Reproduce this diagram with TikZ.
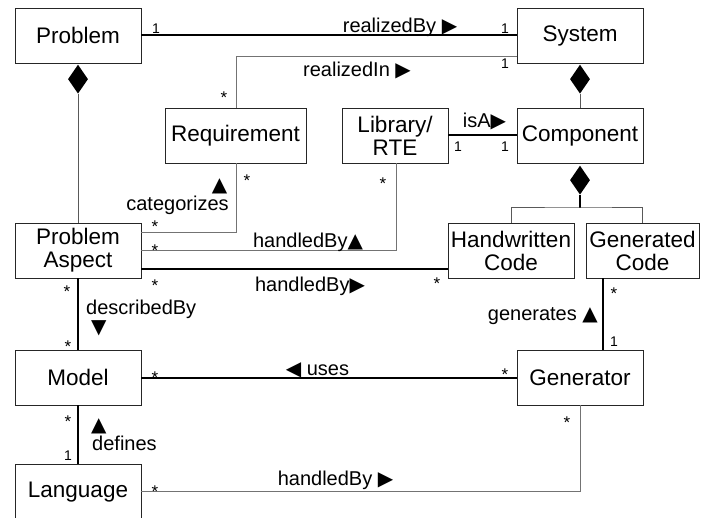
\documentclass[tikz,border=0pt]{standalone}
\usepackage{fontspec}
\setmainfont{Liberation Sans}
\newfontfamily\symf{DejaVu Sans}
\usetikzlibrary{shapes.geometric}
\begin{document}
\begin{tikzpicture}[x=1pt,y=-1pt,
  cls/.style={draw=black!85, line width=0.9pt, fill=white, inner sep=0pt, minimum height=55pt, align=center, font=\fontsize{22.5}{25}\selectfont},
  thick line/.style={draw=black, line width=2pt},
  thin line/.style={draw=black!55, line width=1pt},
  lbl/.style={anchor=base, inner sep=0pt, font=\fontsize{20}{22}\selectfont},
  mult/.style={anchor=base, inner sep=0pt, font=\fontsize{14}{16}\selectfont},
  star/.style={anchor=base, inner sep=0pt, font=\fontsize{17}{18}\selectfont},
  comp/.style={diamond, fill=black, draw=none, inner sep=0pt, minimum width=20pt, minimum height=29pt, anchor=north},
  stem/.style={draw=black!65, line width=1pt}
]
\useasboundingbox (0,0) rectangle (714,518);
\fill[white] (0,0) rectangle (714,518);

% classes
\node[cls, minimum width=126pt] (P) at (78,35.5) {Problem};
\node[cls, minimum width=126pt] (S) at (580,35.5) {System};
\node[cls, minimum width=141pt] (R) at (235.5,135.5) {Requirement};
\node[cls, minimum width=106pt] (L) at (395,135.5) {Library/\\[-2pt]RTE};
\node[cls, minimum width=126pt] (C) at (580,135.5) {Component};
\node[cls, minimum width=126pt] (H) at (511,250.5) {Handwritten\\[-2pt]Code};
\node[cls, minimum width=113pt] (G) at (642.5,250.5) {Generated\\[-2pt]Code};
\node[cls, minimum width=126pt] (A) at (78,250.5) {Problem\\[-2pt]Aspect};
\node[cls, minimum width=126pt] (M) at (78,377.5) {Model};
\node[cls, minimum width=126pt] (Gen) at (580,377.5) {Generator};
\node[cls, minimum width=126pt, minimum height=56pt] (Lang) at (78,492) {Language};

% compositions
\node[comp] (dP) at ([yshift=-1pt]P.south) {};
\draw[stem] (dP.south) -- (A.north);
\node[comp] (dS) at ([yshift=-1pt]S.south) {};
\draw[stem] (dS.south) -- (C.north);
\node[comp] (dC) at ([yshift=-2pt]C.south) {};
\coordinate (br) at (580,208);
\draw[draw=black, line width=1.5pt] (dC.south) -- (br);
\draw[stem] (H.north) |- (br) -| (G.north);

% realizedBy
\draw[thick line] (P.east) -- (S.west);
\node[lbl] (lrb) at (400,33) {realizedBy {\symf ▶}};
\node[mult] (m1) at (156,34) {1};
\node[mult] (m2) at (505,34) {1};

% realizedIn
\coordinate (rin) at (236,57);
\draw[thin line] (S.west |- rin) -- (rin) -- (rin |- R.north);
\node[lbl] (lri) at (357,77) {realizedIn {\symf ▶}};
\node[mult] (m3) at (505,69) {1};
\node[star] (m4) at (224,104) {*};

% isA
\draw[thick line] (L.east) -- (C.west);
\node[lbl] (lisa) at (484.5,128) {isA{\symf ▶}};
\node[mult] (m5) at (458,152) {1};
\node[mult] (m6) at (505,152) {1};

% categorizes
\coordinate (cat) at (236,233);
\draw[thin line] (cat |- R.south) -- (cat) -- (A.east |- cat);
\node[lbl] (lcat) at (177.5,211) {categorizes};
\node[lbl] (lcatt) at (219.5,192) {\symf ▲};
\node[star] (m7) at (247,187) {*};
\node[star] (m8) at (155,233) {*};

% handledBy library
\coordinate (hl) at (396,251);
\draw[thin line] (A.east |- hl) -- (hl) -- (hl |- L.south);
\node[lbl] (lhl) at (308,248) {handledBy{\symf ▲}};
\node[star] (m9) at (155,257) {*};
\node[star] (m10) at (383,190) {*};

% handledBy handwritten
\coordinate (hh) at (300,269);
\draw[thick line] (A.east |- hh) -- (H.west |- hh);
\node[lbl] (lhh) at (310,291) {handledBy{\symf ▶}};
\node[star] (m11) at (155,292) {*};
\node[star] (m12) at (437,290) {*};

% describedBy
\draw[thick line] (A.south) -- (M.north);
\node[lbl, anchor=base west] (ldb) at (86,315) {describedBy};
\node[lbl, anchor=base west] (ldbt) at (91,334) {\symf ▼};
\node[star] (m13) at (67,298) {*};
\node[star] (m14) at (68,352) {*};

% uses
\draw[thick line] (M.east) -- (Gen.west);
\node[lbl] (luse) at (317.5,375) {{\symf ◀} uses};
\node[star] (m15) at (155,383) {*};
\node[star] (m16) at (505,380) {*};

% generates
\coordinate (gx) at (603,300);
\draw[thick line] (gx |- G.south) -- (gx |- Gen.north);
\node[lbl, anchor=base east] (lgen) at (598,320) {generates {\symf ▲}};
\node[star] (m17) at (614,300) {*};
\node[mult] (m18) at (614,346) {1};

% defines
\draw[thick line] (M.south) -- (Lang.north);
\node[lbl, anchor=base west] (ldeft) at (91,431) {\symf ▲};
\node[lbl, anchor=base west] (ldef) at (92,450) {defines};
\node[star] (m19) at (68,427) {*};
\node[mult] (m20) at (68,460) {1};

% handledBy language
\coordinate (hg) at (580,491);
\draw[thin line] (Lang.east |- hg) -- (hg) -- (Gen.south);
\node[lbl] (lhg) at (335.5,485) {handledBy {\symf ▶}};
\node[star] (m21) at (155,497) {*};
\node[star] (m22) at (567,428) {*};
\end{tikzpicture}
\end{document}
